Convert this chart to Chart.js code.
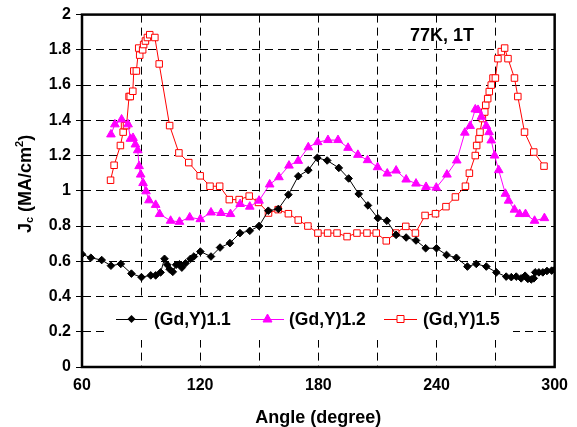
<!DOCTYPE html>
<html>
<head>
<meta charset="utf-8">
<script src="https://cdn.jsdelivr.net/npm/chart.js@4/dist/chart.umd.min.js"></script>
<style>
  body { margin: 0; background: #fff; }
  #wrap { width: 577px; height: 427px; }
</style>
</head>
<body>
<div id="wrap"><canvas id="chart" width="577" height="427"></canvas></div>
<script>
// (Gd,Y)1.1
const angles11 = [60, 64.5, 70, 74.7, 79.7, 85.1, 90.2, 94.9, 97.4, 99.9, 101.9, 103.3, 104.5, 106.1, 107.8, 109.5, 110.7, 112.6, 115.1, 116.8,
    120.1, 125.5, 130.1, 135.1, 140.2, 145.2, 149.9, 154.6, 159.7, 164.8, 169.8, 174.9, 179.5, 184.5, 190.4, 195.4, 200.5, 205.2, 210.2, 214.8,
    219.5, 224.6, 229.6, 234.5, 240, 245.1, 250.1, 255.7, 260.2, 265.3, 270.4, 275.4, 278, 280.5, 283, 285, 286.4, 288.1, 289.4, 290.1,
    292, 294, 296.1, 298.5, 300];
const jc11 = [0.64, 0.62, 0.607, 0.575, 0.585, 0.53, 0.51, 0.52, 0.52, 0.537, 0.614, 0.58, 0.555, 0.54, 0.58, 0.583, 0.564, 0.589, 0.614, 0.627,
    0.655, 0.627, 0.678, 0.703, 0.76, 0.773, 0.8, 0.887, 0.897, 0.978, 1.083, 1.117, 1.187, 1.172, 1.13, 1.07, 0.982, 0.917, 0.845, 0.83,
    0.75, 0.735, 0.718, 0.674, 0.674, 0.636, 0.62, 0.57, 0.585, 0.57, 0.537, 0.513, 0.51, 0.513, 0.503, 0.518, 0.5, 0.497, 0.503, 0.537,
    0.537, 0.537, 0.545, 0.547, 0.551];

// (Gd,Y)1.2
const angles12 = [74.7, 76.7, 80.1, 83.4, 84.6, 85.9, 87.1, 88.3, 89, 89.8, 91, 92.5, 94, 97.4, 99.4, 105, 109.5, 114.7, 120.1, 125.5,
    130.6, 135.4, 140.3, 145.2, 149.9, 155.3, 160, 165.1, 169.8, 174.9, 179.7, 184.9, 190, 195.1, 200.1, 205, 210.1, 215, 219.5, 224.6,
    229.6, 234.7, 239.9, 245.3, 250.3, 254.4, 257.1, 259.7, 261.1, 262.8, 265.3, 266.7, 267.8, 269.5, 271.6, 275, 276.6, 279.6, 282.2, 285.2,
    289.8, 294.8];
const jc12 = [1.32, 1.377, 1.405, 1.377, 1.295, 1.3, 1.263, 1.23, 1.14, 1.092, 1.044, 0.997, 0.946, 0.92, 0.868, 0.83, 0.824, 0.849, 0.839, 0.877,
    0.874, 0.868, 0.925, 0.91, 0.944, 1.036, 1.077, 1.143, 1.17, 1.247, 1.276, 1.288, 1.288, 1.244, 1.204, 1.174, 1.134, 1.098, 1.115, 1.064,
    1.041, 1.022, 1.018, 1.092, 1.172, 1.33, 1.368, 1.462, 1.459, 1.42, 1.368, 1.333, 1.286, 1.2, 1.117, 0.983, 0.944, 0.893, 0.868, 0.868,
    0.83, 0.845];

// (Gd,Y)1.5
const angles15 = [74.5, 76.3, 79.5, 80.9, 81.6, 82.6, 83.9, 84.5, 85.8, 86.3, 87.6, 88.8, 89.3, 90.8, 91.3, 92.2, 93.2, 94.4, 97, 99.2,
    104.5, 109.2, 114.2, 120, 125, 129.9, 134.8, 139.8, 144.9, 149.6, 154.7, 159.6, 164.8, 169.8, 174.7, 179.8, 184.7, 189.5, 194.6, 199.6,
    204.7, 209.4, 214.5, 219.3, 224.4, 229.3, 234.2, 239.5, 244.8, 249.6, 254.7, 256.7, 259.7, 260.4, 261.6, 262.1, 263.3, 264.5, 265, 266,
    266.8, 267.8, 268.7, 269.9, 271.2, 272.9, 274.6, 276.3, 279.6, 281.3, 284.7, 289.4, 294.6];
const jc15 = [1.06, 1.145, 1.257, 1.333, 1.37, 1.37, 1.535, 1.535, 1.565, 1.68, 1.68, 1.81, 1.77, 1.8, 1.83, 1.85, 1.87, 1.886, 1.87, 1.72,
    1.37, 1.215, 1.16, 1.085, 1.026, 1.026, 0.95, 0.95, 0.97, 0.934, 0.874, 0.893, 0.87, 0.834, 0.8, 0.76, 0.76, 0.76, 0.74, 0.76,
    0.76, 0.76, 0.716, 0.76, 0.798, 0.76, 0.86, 0.87, 0.91, 0.965, 1.026, 1.1, 1.2, 1.257, 1.295, 1.333, 1.41, 1.447, 1.486, 1.523,
    1.563, 1.6, 1.64, 1.64, 1.75, 1.79, 1.81, 1.75, 1.64, 1.535, 1.333, 1.22, 1.14];

const seriesNames = ['(Gd,Y)1.1', '(Gd,Y)1.2', '(Gd,Y)1.5'];
const annotation = '77K, 1T';

const FONT = 'Arial, "Liberation Sans", sans-serif';

const pts = (xs, ys) => xs.map((x, i) => ({ x: x, y: ys[i] }));

// legend, title texts, frame
const extras = {
    id: 'extras',
    beforeDatasetsDraw(chart) {
        const ctx = chart.ctx;
        ctx.save();
        ctx.fillStyle = '#fff';
        ctx.fillRect(105, 300, 408, 40);

        const y = 319;
        const items = [
            { x0: 116, x1: 147, color: '#000', mark: 'diamond', tx: 154 },
            { x0: 251, x1: 284, color: '#ff00ff', mark: 'triangle', tx: 289 },
            { x0: 384, x1: 417, color: '#ff0000', mark: 'square', tx: 423 }
        ];
        items.forEach((it, i) => {
            ctx.strokeStyle = it.color;
            ctx.lineWidth = 1;
            ctx.beginPath();
            ctx.moveTo(it.x0, y + 0.5);
            ctx.lineTo(it.x1, y + 0.5);
            ctx.stroke();
            const cx = (it.x0 + it.x1) / 2;
            ctx.beginPath();
            if (it.mark === 'diamond') {
                ctx.moveTo(cx - 4, y); ctx.lineTo(cx, y - 4); ctx.lineTo(cx + 4, y); ctx.lineTo(cx, y + 4);
                ctx.closePath();
                ctx.fillStyle = it.color; ctx.fill();
            } else if (it.mark === 'triangle') {
                ctx.moveTo(cx, y - 5); ctx.lineTo(cx + 4.5, y + 3); ctx.lineTo(cx - 4.5, y + 3);
                ctx.closePath();
                ctx.fillStyle = it.color; ctx.fill(); ctx.stroke();
            } else {
                ctx.rect(cx - 3.5, y - 3.5, 7, 7);
                ctx.fillStyle = '#fff'; ctx.fill(); ctx.stroke();
            }
            ctx.fillStyle = '#000';
            ctx.font = 'bold 17.5px ' + FONT;
            ctx.textAlign = 'left';
            ctx.textBaseline = 'middle';
            ctx.fillText(seriesNames[i], it.tx, y + 1);
        });
        ctx.restore();
    },
    afterDraw(chart) {
        const ctx = chart.ctx;
        const a = chart.chartArea;
        ctx.save();
        ctx.strokeStyle = '#000';
        ctx.lineWidth = 2.5;
        ctx.strokeRect(a.left, a.top, a.right - a.left, a.bottom - a.top);

        ctx.fillStyle = '#000';
        ctx.font = 'bold 18px ' + FONT;
        ctx.textAlign = 'center';
        ctx.textBaseline = 'middle';
        ctx.fillText(annotation, 442, 36);
        ctx.fillText('Angle (degree)', (a.left + a.right) / 2, 418);

        // y title with sub/superscript
        ctx.translate(26, 184);
        ctx.rotate(-Math.PI / 2);
        const big = 'bold 18px ' + FONT, small = 'bold 11px ' + FONT;
        const parts = [['J', big, 0], ['c', small, 4], [' (MA/cm', big, 0], ['2', small, -6], [')', big, 0]];
        let w = 0;
        parts.forEach(p => { ctx.font = p[1]; w += ctx.measureText(p[0]).width; });
        let x = -w / 2;
        ctx.textAlign = 'left';
        parts.forEach(p => {
            ctx.font = p[1];
            ctx.fillText(p[0], x, p[2]);
            x += ctx.measureText(p[0]).width;
        });
        ctx.restore();
    }
};

new Chart(document.getElementById('chart'), {
    type: 'line',
    data: {
        datasets: [
            {
                label: seriesNames[0], data: pts(angles11, jc11),
                borderColor: '#000', backgroundColor: '#000', borderWidth: 1,
                pointStyle: 'rectRot', pointRadius: 3.8, pointBorderWidth: 1
            },
            {
                label: seriesNames[1], data: pts(angles12, jc12),
                borderColor: '#ff00ff', backgroundColor: '#ff00ff', borderWidth: 1,
                pointStyle: 'triangle', pointRadius: 5, pointBorderWidth: 1
            },
            {
                label: seriesNames[2], data: pts(angles15, jc15),
                borderColor: '#ff0000', backgroundColor: '#fff', borderWidth: 1,
                pointStyle: 'rect', pointRadius: 4.6, pointBorderWidth: 1
            }
        ]
    },
    options: {
        responsive: false,
        animation: false,
        layout: { padding: { top: 14, right: 18, left: 0, bottom: 0 } },
        plugins: { legend: { display: false }, tooltip: { enabled: false } },
        elements: { line: { tension: 0 } },
        scales: {
            x: {
                type: 'linear', min: 60, max: 300,
                afterFit: s => { s.height = 60; },
                ticks: {
                    stepSize: 30, padding: 9, color: '#000',
                    font: { family: FONT, size: 16, weight: 'bold' },
                    callback: v => (v % 60 === 0 ? v : '')
                },
                grid: { color: '#000', lineWidth: 1, drawTicks: false },
                border: { color: '#000', width: 2, dash: [8, 5] }
            },
            y: {
                min: 0, max: 2,
                afterFit: s => { s.width = 82; },
                ticks: {
                    stepSize: 0.2, padding: 5, color: '#000',
                    font: { family: FONT, size: 16, weight: 'bold' },
                    callback: v => +v.toFixed(1)
                },
                grid: { color: '#000', lineWidth: 1, tickLength: 6, tickBorderDash: [] },
                border: { color: '#000', width: 2, dash: [8, 5] }
            }
        }
    },
    plugins: [extras]
});
</script>
</body>
</html>
